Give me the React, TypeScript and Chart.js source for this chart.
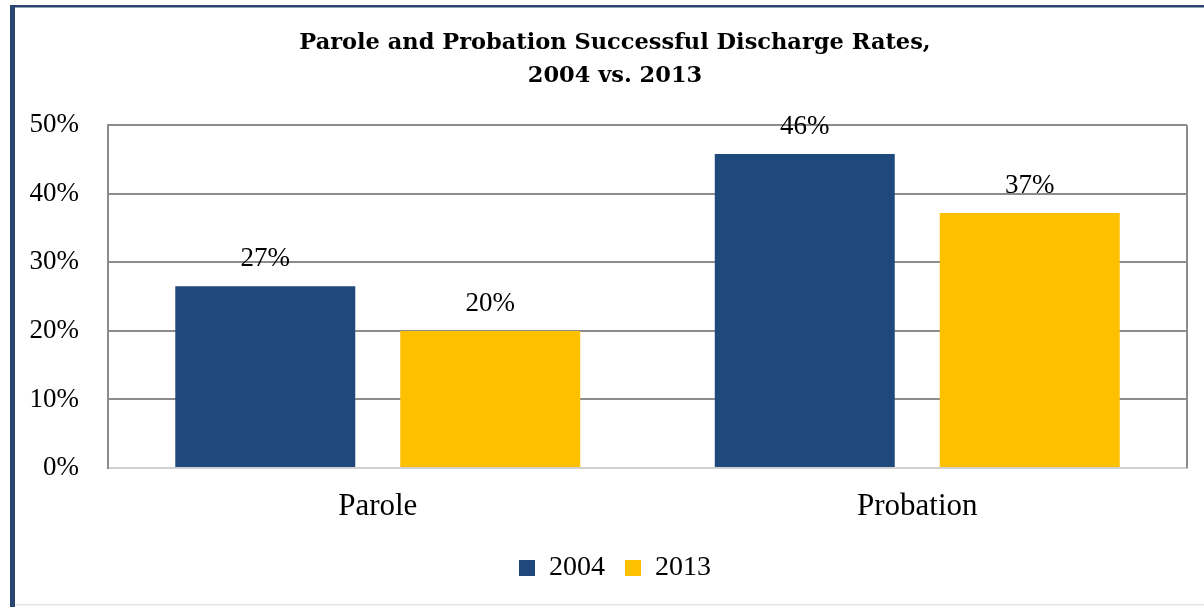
import React, { useEffect, useRef } from "react";
import { Chart, registerables } from "chart.js";

Chart.register(...registerables);

const categories = ["Parole", "Probation"];
const seriesLabels = ["2004", "2013"];
const values2004 = [26.5, 45.8];
const values2013 = [20.0, 37.2];
const yTicks = [0, 10, 20, 30, 40, 50];
const titleLines = ["Parole and Probation Successful Discharge Rates,", "2004 vs. 2013"];

const NAVY = "#1F497D";
const GOLD = "#FFC000";
const FRAME = "#2A4670";

const framePlugin = {
  id: "frame",
  beforeDraw(chart: any) {
    const ctx = chart.ctx;
    ctx.save();
    ctx.fillStyle = "#ffffff";
    ctx.fillRect(0, 0, chart.width, chart.height);
    ctx.fillStyle = FRAME;
    ctx.fillRect(10, 5, chart.width - 10, 2.5);
    ctx.fillRect(10, 5, 5, chart.height - 5);
    ctx.fillStyle = "#e6e6e6";
    ctx.fillRect(15, chart.height - 3, chart.width - 15, 1.5);
    ctx.restore();
  },
  afterDraw(chart: any) {
    const { ctx, chartArea } = chart;
    ctx.save();
    ctx.strokeStyle = "#8c8c8c";
    ctx.lineWidth = 2;
    ctx.beginPath();
    ctx.moveTo(chartArea.right, chartArea.top);
    ctx.lineTo(chartArea.right, chartArea.bottom);
    ctx.stroke();
    ctx.restore();
  },
};

const valueLabelPlugin = {
  id: "valueLabels",
  afterDatasetsDraw(chart: any) {
    const ctx = chart.ctx;
    ctx.save();
    ctx.font = '27px "Liberation Serif"';
    ctx.fillStyle = "#000000";
    ctx.textAlign = "center";
    ctx.textBaseline = "alphabetic";
    chart.data.datasets.forEach((ds: any, di: number) => {
      const meta = chart.getDatasetMeta(di);
      meta.data.forEach((bar: any, i: number) => {
        const v = ds.data[i] as number;
        ctx.fillText(`${Math.round(v)}%`, bar.x, bar.y - 20);
      });
    });
    ctx.restore();
  },
};

export default function App() {
  const canvasRef = useRef<HTMLCanvasElement | null>(null);

  useEffect(() => {
    if (!canvasRef.current) return;
    const chart = new Chart(canvasRef.current, {
      type: "bar",
      data: {
        labels: categories,
        datasets: [
          {
            label: seriesLabels[0],
            data: values2004,
            backgroundColor: NAVY,
            borderWidth: 0,
            categoryPercentage: 0.834,
            barPercentage: 0.8,
          },
          {
            label: seriesLabels[1],
            data: values2013,
            backgroundColor: GOLD,
            borderWidth: 0,
            categoryPercentage: 0.834,
            barPercentage: 0.8,
          },
        ],
      },
      options: {
        animation: false,
        responsive: false,
        layout: { padding: { left: 43, right: 17, top: 0, bottom: 15 } },
        plugins: {
          title: {
            display: true,
            text: titleLines,
            color: "#000000",
            font: { family: '"DejaVu Serif"', size: 22.5, weight: "bold", lineHeight: 1.45 },
            padding: { top: 27, bottom: 33 },
          },
          legend: {
            display: true,
            position: "bottom",
            labels: {
              color: "#000000",
              font: { family: '"Liberation Serif"', size: 28 },
              boxWidth: 16,
              boxHeight: 16,
              padding: 20,
            },
          },
          tooltip: { enabled: false },
        },
        scales: {
          x: {
            grid: { display: false, drawTicks: false },
            border: { display: true, color: "#d0d0d0", width: 2 },
            ticks: {
              color: "#000000",
              font: { family: '"Liberation Serif"', size: 31 },
              padding: 20,
            },
            afterFit(scale: any) {
              scale.height = 66;
            },
          },
          y: {
            min: 0,
            max: 50,
            afterBuildTicks(scale: any) {
              scale.ticks = yTicks.map((v) => ({ value: v }));
            },
            grid: {
              drawTicks: false,
              color: (c: any) => (c.tick && c.tick.value === 0 ? "#d0d0d0" : "#8c8c8c"),
              lineWidth: 2,
            },
            border: { display: true, color: "#8c8c8c", width: 2 },
            ticks: {
              color: "#000000",
              font: { family: '"Liberation Serif"', size: 27 },
              padding: 29,
              callback: (v: any) => `${v}%`,
            },
            afterFit(scale: any) {
              scale.width = 65;
              // let the tick labels extend into the left padding without clipping
              scale._computeLabelArea = () => undefined;
            },
          },
        },
      },
      plugins: [framePlugin, valueLabelPlugin],
    });
    return () => chart.destroy();
  }, []);

  return (
    <div style={{ position: "absolute", left: 0, top: 0, width: 1204, height: 607 }}>
      <canvas ref={canvasRef} width={1204} height={607} style={{ display: "block" }} />
    </div>
  );
}
